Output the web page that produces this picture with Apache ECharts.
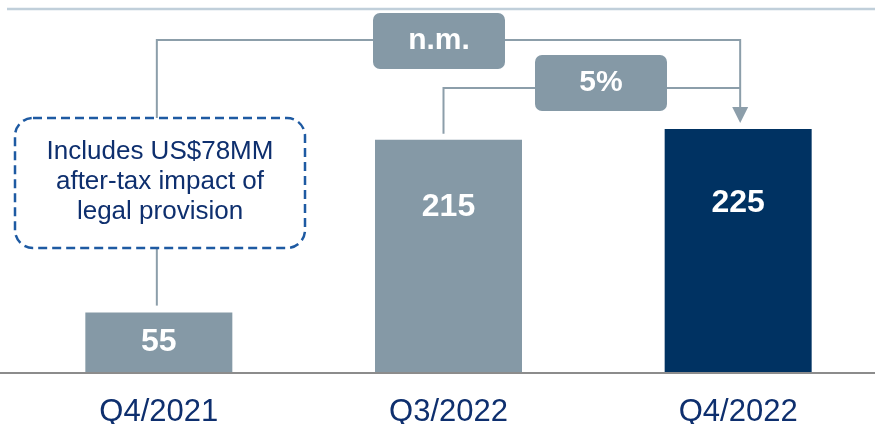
<!DOCTYPE html>
<html><head><meta charset="utf-8">
<script src="https://cdn.jsdelivr.net/npm/echarts@6/dist/echarts.min.js"></script>
<style>html,body{margin:0;padding:0;background:#fff}#c{width:875px;height:424px}</style>
</head><body><div id="c"></div>
<script>
const categories = ['Q4/2021', 'Q3/2022', 'Q4/2022'];
const values = [55, 215, 225];
const barColors = ['#8599a6', '#8599a6', '#003262'];
const growthLabels = ['n.m.', '5%'];
const noteLines = ['Includes US$78MM', 'after-tax impact of', 'legal provision'];

const FONT = '"Liberation Sans", Arial, sans-serif';
const NAVY_TEXT = '#0e2f6e';
const LINE_GRAY = '#8c9eaa';
const labelDist = [null, 51, 58];

const chart = echarts.init(document.getElementById('c'), null, {renderer: 'canvas'});
chart.setOption({
  animation: false,
  grid: {left: 14, right: -8, top: 48, bottom: 52, outerBoundsMode: 'none', containLabel: false},
  xAxis: {
    type: 'category', data: categories,
    axisLine: {show: false}, axisTick: {show: false},
    axisLabel: {color: NAVY_TEXT, fontSize: 31, fontFamily: FONT, margin: 25}
  },
  yAxis: {type: 'value', min: 0, max: 300, show: false, splitLine: {show: false}},
  series: [{
    type: 'bar', barWidth: 147,
    data: values.map((v, i) => ({
      value: v,
      itemStyle: {color: barColors[i]},
      label: labelDist[i] == null ? {position: 'inside'} : {position: 'insideTop', distance: labelDist[i]}
    })),
    label: {show: true, color: '#fff', fontSize: 32, fontWeight: 'bold', fontFamily: FONT}
  }]
});

function px(i) { return chart.convertToPixel({gridIndex: 0}, [i, values[i]]); }
const p0 = px(0), p1 = px(1), p2 = px(2);
const base = chart.convertToPixel({gridIndex: 0}, [0, 0])[1];
const noteBox = {x: 15, y: 118, w: 290, h: 130};
const nmBox = {x: 373, y: 13, w: 132, h: 56};
const pcBox = {x: 535, y: 55, w: 132, h: 56};
const nmY = 40, pcY = 88;
const ax = p2[0] + 2;
const arrowTip = p2[1] - 6;
const lineStyle = {stroke: LINE_GRAY, lineWidth: 2, fill: null};

chart.setOption({
  graphic: [
    {type: 'line', shape: {x1: 7, y1: 9, x2: 875, y2: 9}, style: {stroke: '#c0cfda', lineWidth: 2.5}},
    {type: 'line', shape: {x1: 0, y1: base + 1, x2: 875, y2: base + 1}, style: {stroke: '#8c8c8c', lineWidth: 2}, z: 10},
    {type: 'polyline', shape: {points: [[p0[0] - 2, noteBox.y], [p0[0] - 2, nmY], [ax, nmY], [ax, arrowTip - 14]]}, style: lineStyle},
    {type: 'polygon', shape: {points: [[ax - 8, arrowTip - 16], [ax + 8, arrowTip - 16], [ax, arrowTip]]}, style: {fill: LINE_GRAY}},
    {type: 'polyline', shape: {points: [[p1[0] - 5, p1[1] - 6], [p1[0] - 5, pcY], [ax, pcY]]}, style: lineStyle},
    {type: 'line', shape: {x1: p0[0] - 2, y1: noteBox.y + noteBox.h, x2: p0[0] - 2, y2: p0[1] - 7}, style: lineStyle},
    {type: 'rect', shape: {x: nmBox.x, y: nmBox.y, width: nmBox.w, height: nmBox.h, r: 7}, style: {fill: '#8599a6'}, z: 5},
    {type: 'text', x: nmBox.x + nmBox.w / 2, y: nmBox.y + nmBox.h / 2, z: 6,
     style: {text: growthLabels[0], fill: '#fff', font: 'bold 30px ' + FONT, textAlign: 'center', textVerticalAlign: 'middle'}},
    {type: 'rect', shape: {x: pcBox.x, y: pcBox.y, width: pcBox.w, height: pcBox.h, r: 7}, style: {fill: '#8599a6'}, z: 5},
    {type: 'text', x: pcBox.x + pcBox.w / 2, y: pcBox.y + pcBox.h / 2, z: 6,
     style: {text: growthLabels[1], fill: '#fff', font: 'bold 30px ' + FONT, textAlign: 'center', textVerticalAlign: 'middle'}},
    {type: 'rect', shape: {x: noteBox.x, y: noteBox.y, width: noteBox.w, height: noteBox.h, r: 18},
     style: {fill: '#fff', stroke: '#1e5aa2', lineWidth: 2.5, lineDash: [9, 5]}, z: 5},
    {type: 'text', x: noteBox.x + noteBox.w / 2, y: noteBox.y + noteBox.h / 2 - 1, z: 6,
     style: {text: noteLines.join('\n'), fill: NAVY_TEXT, font: '26px ' + FONT, lineHeight: 30, textAlign: 'center', textVerticalAlign: 'middle'}}
  ]
});
</script></body></html>
